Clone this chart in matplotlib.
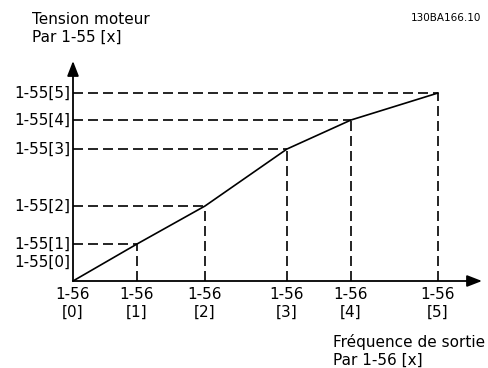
import matplotlib.pyplot as plt

# break points of the U/f curve (arbitrary units)
freq = [0, 64, 132, 214, 278, 365]
volt = [0, 37, 75, 132, 161, 188]
x_labels = ["1-56\n[0]", "1-56\n[1]", "1-56\n[2]", "1-56\n[3]", "1-56\n[4]", "1-56\n[5]"]
y_labels = ["1-55[1]", "1-55[2]", "1-55[3]", "1-55[4]", "1-55[5]"]
y0_label = "1-55[0]"

fs = 11
fig = plt.figure(figsize=(4.89, 3.68), dpi=100)
ax = fig.add_axes([0, 0, 1, 1])
ax.set_xlim(-73, 416)
ax.set_ylim(-87, 281)
ax.axis("off")

# axes with arrows
ax.annotate("", xy=(0, 220), xytext=(0, 0),
            arrowprops=dict(arrowstyle="-|>,head_length=0.9,head_width=0.35", color="black", lw=1.3, shrinkA=0, shrinkB=0))
ax.annotate("", xy=(409, 0), xytext=(0, 0),
            arrowprops=dict(arrowstyle="-|>,head_length=0.9,head_width=0.35", color="black", lw=1.3, shrinkA=0, shrinkB=0))

# curve
ax.plot(freq, volt, color="black", lw=1.2)

# dashed guides
for x, y in zip(freq[1:], volt[1:]):
    ax.plot([0, x], [y, y], color="black", lw=1.2, dashes=(6, 3))
    ax.plot([x, x], [0, y], color="black", lw=1.2, dashes=(6, 3))

# tick labels
for x, lab in zip(freq, x_labels):
    ax.text(x, -6, lab, ha="center", va="top", fontsize=fs, linespacing=1.2)
for y, lab in zip(volt[1:], y_labels):
    ax.text(-3, y, lab, ha="right", va="center", fontsize=fs)
ax.text(-3, 19, y0_label, ha="right", va="center", fontsize=fs)

# axis titles
ax.text(-41, 253, "Tension moteur\nPar 1-55 [x]", ha="left", va="center", fontsize=fs, linespacing=1.25)
ax.text(260, -70, "Fréquence de sortie\nPar 1-56 [x]", ha="left", va="center", fontsize=fs, linespacing=1.25)
ax.text(408, 263, "130BA166.10", ha="right", va="center", fontsize=7.5)

fig.savefig("out.png", dpi=100)
